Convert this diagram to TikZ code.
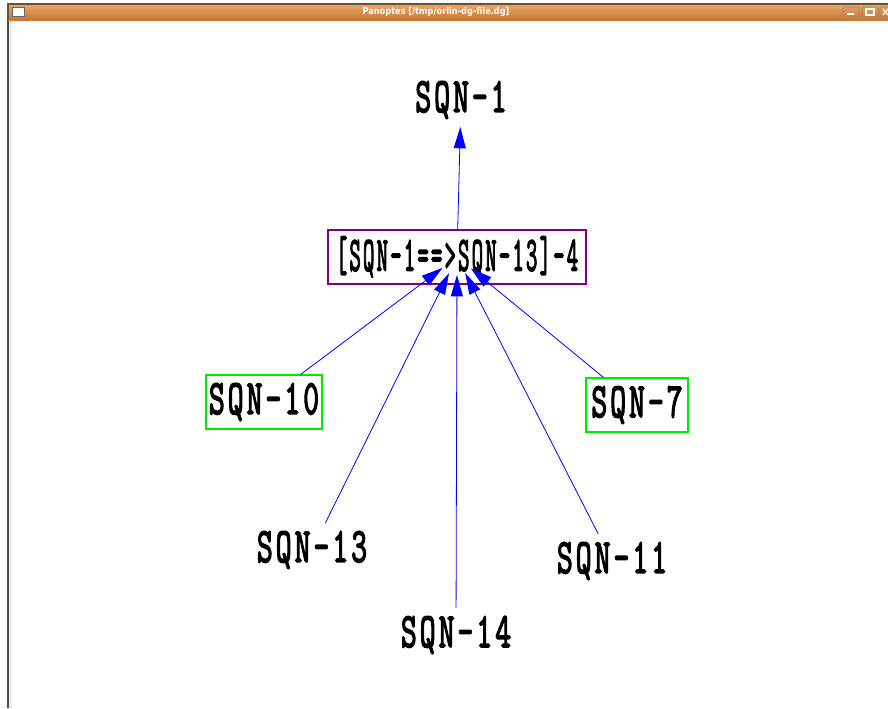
\documentclass[tikz,border=0pt]{standalone}
\usepackage{fontspec}
\usepackage{graphicx}
\usetikzlibrary{arrows.meta}
\newfontfamily\barfont{DejaVu Sans}
\newfontfamily\sqnfont{Latin Modern Mono}[AutoFakeBold=3.4, LetterSpace=10]
\definecolor{edgeblue}{RGB}{0,0,255}
\definecolor{hubpurple}{RGB}{128,0,128}
\definecolor{leafgreen}{RGB}{0,235,0}
\definecolor{bartop}{RGB}{232,168,104}
\definecolor{barbottom}{RGB}{198,118,52}
\definecolor{barline}{RGB}{110,80,50}
\newcommand{\tall}[2][1]{\scalebox{#1}[1.6]{#2}}

\begin{document}
\begin{tikzpicture}[x=0.75pt, y=-0.75pt, >={Triangle[length=16pt,width=9pt]},
  every node/.style={font=\sqnfont\bfseries\fontsize{23}{24}\selectfont},
  lbl/.style={inner sep=6pt},
  leafbox/.style={draw=leafgreen, line width=1.5pt, inner xsep=2pt, minimum height=40pt},
  hubbox/.style={draw=hubpurple, line width=1.5pt, inner xsep=2pt, minimum height=40pt},
  link/.style={edgeblue, line width=0.6pt, ->}]

  % window frame
  \useasboundingbox (0,0) rectangle (888,708);
  \fill[white] (0,0) rectangle (888,708);
  \fill[black!8] (9,20) rectangle (12,708);
  \draw[black!70, line width=0.9pt] (8,4) -- (8,708);
  \shade[top color=bartop, bottom color=barbottom] (8,4) rectangle (888,20);
  \draw[barline, line width=0.8pt] (8,20) |- (888,4);
  \draw[black!60, fill=white] (12,7) rectangle (24,16);
  \foreach \bx in {843,862,880}
    \draw[barline!70, rounded corners=1pt] (\bx,7) rectangle +(16,10);
  \draw[white, line width=1pt] (847,14) -- (854,14);
  \draw[white, line width=0.8pt] (866,9) rectangle (874,15);
  \draw[white, line width=0.9pt] (883,9) -- (888,15) (883,15) -- (888,9);
  \node[font=\barfont\bfseries\fontsize{7}{8}\selectfont, text=white, inner sep=0pt] (title) at (436,12)
    {\scalebox{0.88}[1]{Panoptes [/tmp/orlin-dg-file.dg]}};

  % nodes
  \node[lbl] (sqn1) at (461,100) {\tall{SQN-1}};
  \node[hubbox, minimum width=193pt] (hub) at (457,257) {\tall[0.72]{[SQN-1==>SQN-13]-4}};
  \node[leafbox, minimum width=84pt] (sqn10) at (264,402) {\tall{SQN-10}};
  \node[leafbox, minimum width=76pt] (sqn7) at (637,405) {\tall{SQN-7}};
  \node[lbl] (sqn13) at (312,550) {\tall{SQN-13}};
  \node[lbl] (sqn11) at (612,561) {\tall{SQN-11}};
  \node[lbl] (sqn14) at (456,635) {\tall{SQN-14}};

  % edges
  \draw[link] (hub) -- (sqn1);
  \foreach \leaf in {sqn10,sqn13,sqn14,sqn11,sqn7}
    \draw[link, shorten >=13.5pt] (\leaf) -- (hub.center);

\end{tikzpicture}
\end{document}
